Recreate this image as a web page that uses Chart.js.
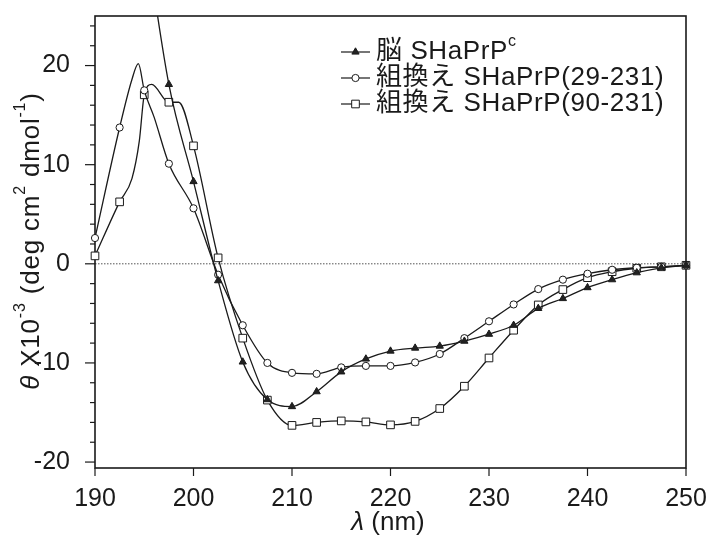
<!DOCTYPE html>
<html>
<head>
<meta charset="utf-8">
<title>SHaPrP CD spectra</title>
<script src="https://cdn.jsdelivr.net/npm/chart.js@4.4.1/dist/chart.umd.min.js"></script>
<style>
  html, body { margin: 0; padding: 0; background: #fff; }
</style>
</head>
<body>
<canvas id="cd" width="710" height="540"></canvas>
<script>
//wavelength (nm) and theta x10^-3
//points on multiples of 2.5 nm carry a marker, the others only shape the line
const brainX = [195, 197.5, 200, 202.5, 205, 207.5, 210, 212.5, 215, 217.5, 220, 222.5, 225, 227.5, 230, 232.5, 235, 237.5, 240, 242.5, 245, 247.5, 250];
const brainY = [34, 18.1, 8.3, -1.7, -9.9, -13.7, -14.4, -12.9, -10.9, -9.6, -8.8, -8.5, -8.3, -7.8, -7.1, -6.2, -4.5, -3.5, -2.4, -1.6, -0.9, -0.4, -0.15];

const fullX = [190, 192.5, 193.75, 194.4, 195, 196, 197.5, 200, 202.5, 205, 207.5, 210, 212.5, 215, 217.5, 220, 222.5, 225, 227.5, 230, 232.5, 235, 237.5, 240, 242.5, 245, 247.5, 250];
const fullY = [2.6, 13.75, 18.6, 20.2, 17.5, 14.8, 10.1, 5.6, -1.1, -6.2, -10.0, -11.0, -11.1, -10.45, -10.3, -10.3, -9.95, -9.1, -7.5, -5.8, -4.1, -2.55, -1.6, -1.0, -0.6, -0.4, -0.3, -0.15];

const shortX = [190, 192.5, 193.75, 194.5, 195, 195.75, 197.5, 198.5, 200, 202.5, 205, 207.5, 210, 212.5, 215, 217.5, 220, 222.5, 225, 227.5, 230, 232.5, 235, 237.5, 240, 242.5, 245, 247.5, 250];
const shortY = [0.8, 6.25, 8.6, 12.4, 17.05, 18.1, 16.3, 16.3, 11.9, 0.6, -7.5, -13.75, -16.3, -16.0, -15.85, -15.95, -16.25, -15.9, -14.6, -12.35, -9.5, -6.7, -4.15, -2.6, -1.4, -0.8, -0.45, -0.3, -0.15];

//legend names, the first one gets a superscript c
const seriesNames = ["脳 SHaPrP", "組換え SHaPrP(29-231)", "組換え SHaPrP(90-231)"];
const seriesSup = ["c", "", ""];

//axis ranges
const xMin = 190, xMax = 250, xStep = 10;
const yMin = -20.6, yMax = 25, yStep = 2;

const FONT = '"Liberation Sans", Arial, "Noto Sans CJK JP", sans-serif';
const INK = "#1a1a1a";

const isMarker = (x) => Math.abs(x / 2.5 - Math.round(x / 2.5)) < 1e-6;

function makeSeries(xs, ys, style, fill, size) {
  return {
    data: xs.map((x, i) => ({ x: x, y: ys[i] })),
    borderColor: INK,
    borderWidth: 1.3,
    cubicInterpolationMode: "monotone",
    pointStyle: style,
    pointBackgroundColor: fill,
    pointBorderColor: INK,
    pointBorderWidth: 1,
    pointRadius: (ctx) => (ctx.raw && isMarker(ctx.raw.x) ? size : 0),
    pointHoverRadius: 0,
    //let end markers show over the side frame, keep the top clipped
    clip: { left: 7, right: 7, top: 0, bottom: 0 },
    legendFill: fill,
    legendSize: size,
  };
}

//draws a run of text pieces, some of them raised as superscripts
function drawPieces(ctx, pieces, x, y) {
  let cx = x;
  pieces.forEach((p) => {
    ctx.font = p.font;
    ctx.fillText(p.t, cx, y - (p.up || 0));
    cx += ctx.measureText(p.t).width;
  });
}
function piecesWidth(ctx, pieces) {
  let w = 0;
  pieces.forEach((p) => {
    ctx.font = p.font;
    w += ctx.measureText(p.t).width;
  });
  return w;
}

//frame, dotted zero line, tick marks, axis titles and legend
const decorations = {
  id: "decorations",
  beforeDatasetsDraw(chart) {
    const ctx = chart.ctx;
    const a = chart.chartArea;
    const y0 = chart.scales.y.getPixelForValue(0);
    ctx.save();
    ctx.strokeStyle = "#555";
    ctx.lineWidth = 1;
    ctx.setLineDash([1.5, 1.5]);
    ctx.beginPath();
    ctx.moveTo(a.left, y0);
    ctx.lineTo(a.right, y0);
    ctx.stroke();
    //box goes under the curves so the end markers sit on top of it
    ctx.setLineDash([]);
    ctx.strokeStyle = INK;
    ctx.lineWidth = 1.6;
    ctx.strokeRect(a.left, a.top, a.right - a.left, a.bottom - a.top);
    ctx.restore();
  },
  afterDraw(chart) {
    const ctx = chart.ctx;
    const a = chart.chartArea;
    const xs = chart.scales.x;
    const ys = chart.scales.y;
    ctx.save();
    ctx.strokeStyle = INK;
    ctx.fillStyle = INK;

    //ticks on y: long on multiples of 10
    ctx.lineWidth = 1.2;
    ys.ticks.forEach((t) => {
      const py = ys.getPixelForValue(t.value);
      const len = t.value % 10 === 0 ? 10 : 5;
      ctx.beginPath();
      ctx.moveTo(a.left - len, py);
      ctx.lineTo(a.left, py);
      ctx.stroke();
    });
    //ticks on x
    xs.ticks.forEach((t) => {
      const px = xs.getPixelForValue(t.value);
      ctx.beginPath();
      ctx.moveTo(px, a.bottom);
      ctx.lineTo(px, a.bottom + 8);
      ctx.stroke();
    });

    //y title, rotated
    const sup = "16px " + FONT;
    const reg = "26px " + FONT;
    const yTitle = [
      { t: "θ", font: "italic " + reg },
      { t: " X10", font: reg },
      { t: "-3", font: sup, up: 11 },
      { t: " (deg cm", font: reg },
      { t: "2", font: sup, up: 11 },
      { t: " dmol", font: reg },
      { t: "-1", font: sup, up: 11 },
      { t: ")", font: reg },
    ];
    ctx.save();
    ctx.translate(32, 241);
    ctx.rotate(-Math.PI / 2);
    ctx.letterSpacing = "0.8px";
    ctx.textBaseline = "middle";
    drawPieces(ctx, yTitle, -piecesWidth(ctx, yTitle) / 2, 0);
    ctx.restore();

    //x title
    const xTitle = [
      { t: "λ", font: "italic " + reg },
      { t: " (nm)", font: reg },
    ];
    ctx.textBaseline = "middle";
    drawPieces(ctx, xTitle, 388 - piecesWidth(ctx, xTitle) / 2, 523);

    //legend
    ctx.letterSpacing = "0.6px";
    chart.data.datasets.forEach((ds, i) => {
      const rowY = 52 + i * 26;
      ctx.lineWidth = 1.2;
      ctx.strokeStyle = INK;
      ctx.beginPath();
      ctx.moveTo(341, rowY);
      ctx.lineTo(370, rowY);
      ctx.stroke();
      ctx.fillStyle = ds.legendFill;
      ctx.lineWidth = 1;
      Chart.helpers.drawPoint(ctx, { pointStyle: ds.pointStyle, radius: ds.legendSize, rotation: 0, borderWidth: 1 }, 355.5, rowY);
      ctx.fillStyle = INK;
      ctx.textBaseline = "middle";
      drawPieces(ctx, [
        { t: seriesNames[i], font: reg },
        { t: seriesSup[i], font: sup, up: 10 },
      ], 376, rowY);
    });
    ctx.restore();
  },
};

const chart = new Chart(document.getElementById("cd"), {
  type: "line",
  plugins: [decorations],
  data: {
    datasets: [
      makeSeries(brainX, brainY, "triangle", "#222", 4.2),
      makeSeries(fullX, fullY, "circle", "#fff", 3.6),
      makeSeries(shortX, shortY, "rect", "#fff", 5.4),
    ],
  },
  options: {
    responsive: false,
    animation: false,
    events: [],
    layout: { padding: { left: 0, top: 16, right: 24, bottom: 0 } },
    plugins: {
      legend: { display: false },
      tooltip: { enabled: false },
    },
    scales: {
      x: {
        type: "linear",
        min: xMin,
        max: xMax,
        grid: { display: false },
        border: { display: false },
        ticks: {
          stepSize: xStep,
          autoSkip: false,
          maxRotation: 0,
          padding: 8,
          color: INK,
          font: { family: FONT, size: 25 },
        },
        afterFit: (scale) => {
          scale.height = 72;
          scale.paddingLeft = 0;
          scale.paddingRight = 0;
        },
      },
      y: {
        type: "linear",
        min: yMin,
        max: yMax,
        grid: { display: false },
        border: { display: false },
        ticks: {
          stepSize: yStep,
          autoSkip: false,
          includeBounds: false,
          padding: 17,
          color: INK,
          font: { family: FONT, size: 25 },
          callback: (v) => (v % 10 === 0 ? v : ""),
        },
        afterFit: (scale) => {
          scale.width = 95;
          scale.paddingTop = 0;
          scale.paddingBottom = 0;
        },
      },
    },
  },
});
</script>
</body>
</html>
